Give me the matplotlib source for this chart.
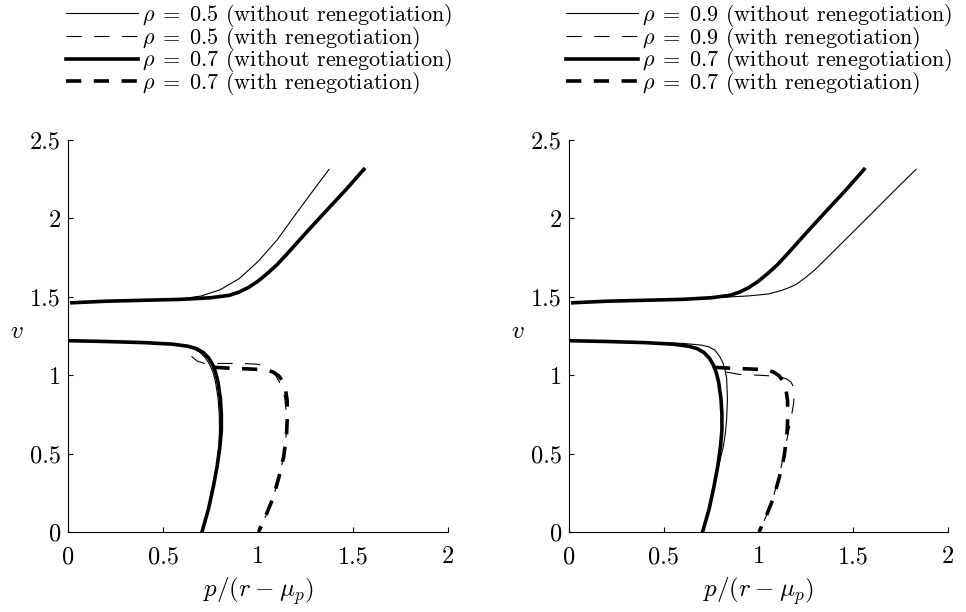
import matplotlib
matplotlib.use("Agg")
import matplotlib.pyplot as plt

plt.rcParams["font.family"] = "cmr10"
plt.rcParams["mathtext.fontset"] = "cm"
plt.rcParams["axes.formatter.use_mathtext"] = True
plt.rcParams["lines.scale_dashes"] = False

# upper branch, without renegotiation
up05_x = [0.02, 0.2, 0.4, 0.6, 0.7, 0.8, 0.9, 1.0, 1.1, 1.2, 1.3, 1.374]
up05_y = [1.462, 1.472, 1.478, 1.488, 1.505, 1.545, 1.615, 1.725, 1.862, 2.03, 2.194, 2.313]
up07_x = [0.02, 0.2, 0.4, 0.6, 0.75, 0.85, 0.9, 0.95, 1.0, 1.05, 1.1, 1.15, 1.25, 1.36, 1.46, 1.557]
up07_y = [1.462, 1.472, 1.478, 1.484, 1.494, 1.51, 1.53, 1.56, 1.6, 1.65, 1.705, 1.77, 1.905, 2.05, 2.18, 2.313]
up09_x = [0.02, 0.2, 0.4, 0.6, 0.8, 0.95, 1.05, 1.12, 1.16, 1.2, 1.25, 1.3, 1.4, 1.5, 1.6, 1.7, 1.831]
up09_y = [1.462, 1.472, 1.478, 1.486, 1.496, 1.506, 1.518, 1.54, 1.558, 1.58, 1.625, 1.675, 1.795, 1.915, 2.035, 2.157, 2.313]

# lower branch, without renegotiation
lo_y = [1.22, 1.215, 1.208, 1.198, 1.185, 1.17, 1.145, 1.11, 1.07, 1.02, 0.96, 0.85, 0.75, 0.65, 0.55, 0.42, 0.29, 0.15, 0.0]
lo05_x = [0.01, 0.2, 0.4, 0.55, 0.62, 0.66, 0.695, 0.723, 0.745, 0.763, 0.776, 0.79, 0.796, 0.797, 0.794, 0.782, 0.763, 0.739, 0.705]
lo07_x = [0.01, 0.2, 0.4, 0.55, 0.63, 0.675, 0.712, 0.74, 0.76, 0.776, 0.789, 0.802, 0.807, 0.807, 0.80, 0.785, 0.765, 0.74, 0.705]
lo09_x = [0.01, 0.2, 0.4, 0.6, 0.7, 0.74, 0.77, 0.795, 0.812, 0.824, 0.832, 0.836, 0.832, 0.825, 0.815, 0.79, 0.766, 0.74, 0.705]
lo09_y = [1.22, 1.215, 1.21, 1.203, 1.192, 1.18, 1.16, 1.12, 1.08, 1.03, 0.98, 0.85, 0.72, 0.63, 0.55, 0.42, 0.29, 0.15, 0.0]

# with renegotiation
re05_x = [0.65, 0.68, 0.72, 0.82, 0.92, 1.0, 1.04, 1.07, 1.095, 1.12, 1.14, 1.15, 1.148, 1.135, 1.11, 1.08, 1.04, 1.003]
re05_y = [1.12, 1.09, 1.075, 1.075, 1.075, 1.07, 1.055, 1.03, 0.995, 0.94, 0.86, 0.75, 0.62, 0.48, 0.35, 0.22, 0.1, 0.0]
re07_x = [0.77, 0.85, 0.95, 1.04, 1.08, 1.11, 1.13, 1.145, 1.153, 1.155, 1.15, 1.135, 1.11, 1.08, 1.04, 1.003]
re07_y = [1.05, 1.045, 1.04, 1.035, 1.02, 0.995, 0.96, 0.91, 0.84, 0.75, 0.62, 0.48, 0.35, 0.22, 0.1, 0.0]
re09_x = [0.83, 0.9, 1.0, 1.08, 1.12, 1.15, 1.172, 1.185, 1.188, 1.185, 1.17, 1.15, 1.13, 1.105, 1.075, 1.04, 1.003]
re09_y = [1.02, 1.005, 1.0, 0.995, 0.988, 0.975, 0.955, 0.925, 0.88, 0.82, 0.71, 0.59, 0.47, 0.34, 0.21, 0.1, 0.0]

xticks = [0, 0.5, 1, 1.5, 2]
xtick_labels = ["0", "0.5", "1", "1.5", "2"]
yticks = [0, 0.5, 1, 1.5, 2, 2.5]
ytick_labels = ["0", "0.5", "1", "1.5", "2", "2.5"]

THIN, THICK = 0.8, 2.6
DASH = (11, 9)

fig = plt.figure(figsize=(9.66, 6.12), dpi=100)
ax_l = fig.add_axes([0.0704, 0.1307, 0.3934, 0.6405])
ax_r = fig.add_axes([0.589, 0.1307, 0.3924, 0.6405])


def draw_panel(ax, rho_thin, up_x, up_y, lo_x, lo_y_thin, re_x, re_y, legend_x):
    h1, = ax.plot(lo_x, lo_y_thin, color="k", lw=THIN,
                  label=rf"$\rho\;=\;{rho_thin}$ (without renegotiation)")
    ax.plot(up_x, up_y, color="k", lw=THIN)
    h2, = ax.plot(re_x, re_y, color="k", lw=THIN, ls=(0, DASH),
                  label=rf"$\rho\;=\;{rho_thin}$ (with renegotiation)")
    h3, = ax.plot(lo07_x, lo_y, color="k", lw=THICK,
                  label=r"$\rho\;=\;0.7$ (without renegotiation)")
    ax.plot(up07_x, up07_y, color="k", lw=THICK)
    h4, = ax.plot(re07_x, re07_y, color="k", lw=THICK, ls=(0, DASH),
                  label=r"$\rho\;=\;0.7$ (with renegotiation)")

    ax.set_xlim(0, 2)
    ax.set_ylim(0, 2.5)
    ax.set_xticks(xticks)
    ax.set_xticklabels(xtick_labels)
    ax.set_yticks(yticks)
    ax.set_yticklabels(ytick_labels)
    ax.spines["top"].set_visible(False)
    ax.spines["right"].set_visible(False)
    ax.tick_params(direction="in", length=3.5, width=0.8, labelsize=17.5)
    ax.tick_params(axis="x", pad=10)
    ax.tick_params(axis="y", pad=5)
    ax.set_xlabel(r"$p/(r\:-\:\mu_p)$", fontsize=18, labelpad=5)
    ax.set_ylabel(r"$v$", fontsize=18, rotation=0, va="center", ha="center")
    ax.yaxis.set_label_coords(-0.135, 0.51)

    ax.legend(handles=[h1, h2, h3, h4], loc="upper left",
              bbox_to_anchor=(legend_x, 0.997), bbox_transform=fig.transFigure,
              frameon=False, fontsize=16, handlelength=3.25, handletextpad=0.2,
              borderpad=0, borderaxespad=0, labelspacing=-0.19)


draw_panel(ax_l, 0.5, up05_x, up05_y, lo05_x, lo_y, re05_x, re05_y, 0.068)
draw_panel(ax_r, 0.9, up09_x, up09_y, lo09_x, lo09_y, re09_x, re09_y, 0.5856)

fig.savefig("out.png", dpi=100)
